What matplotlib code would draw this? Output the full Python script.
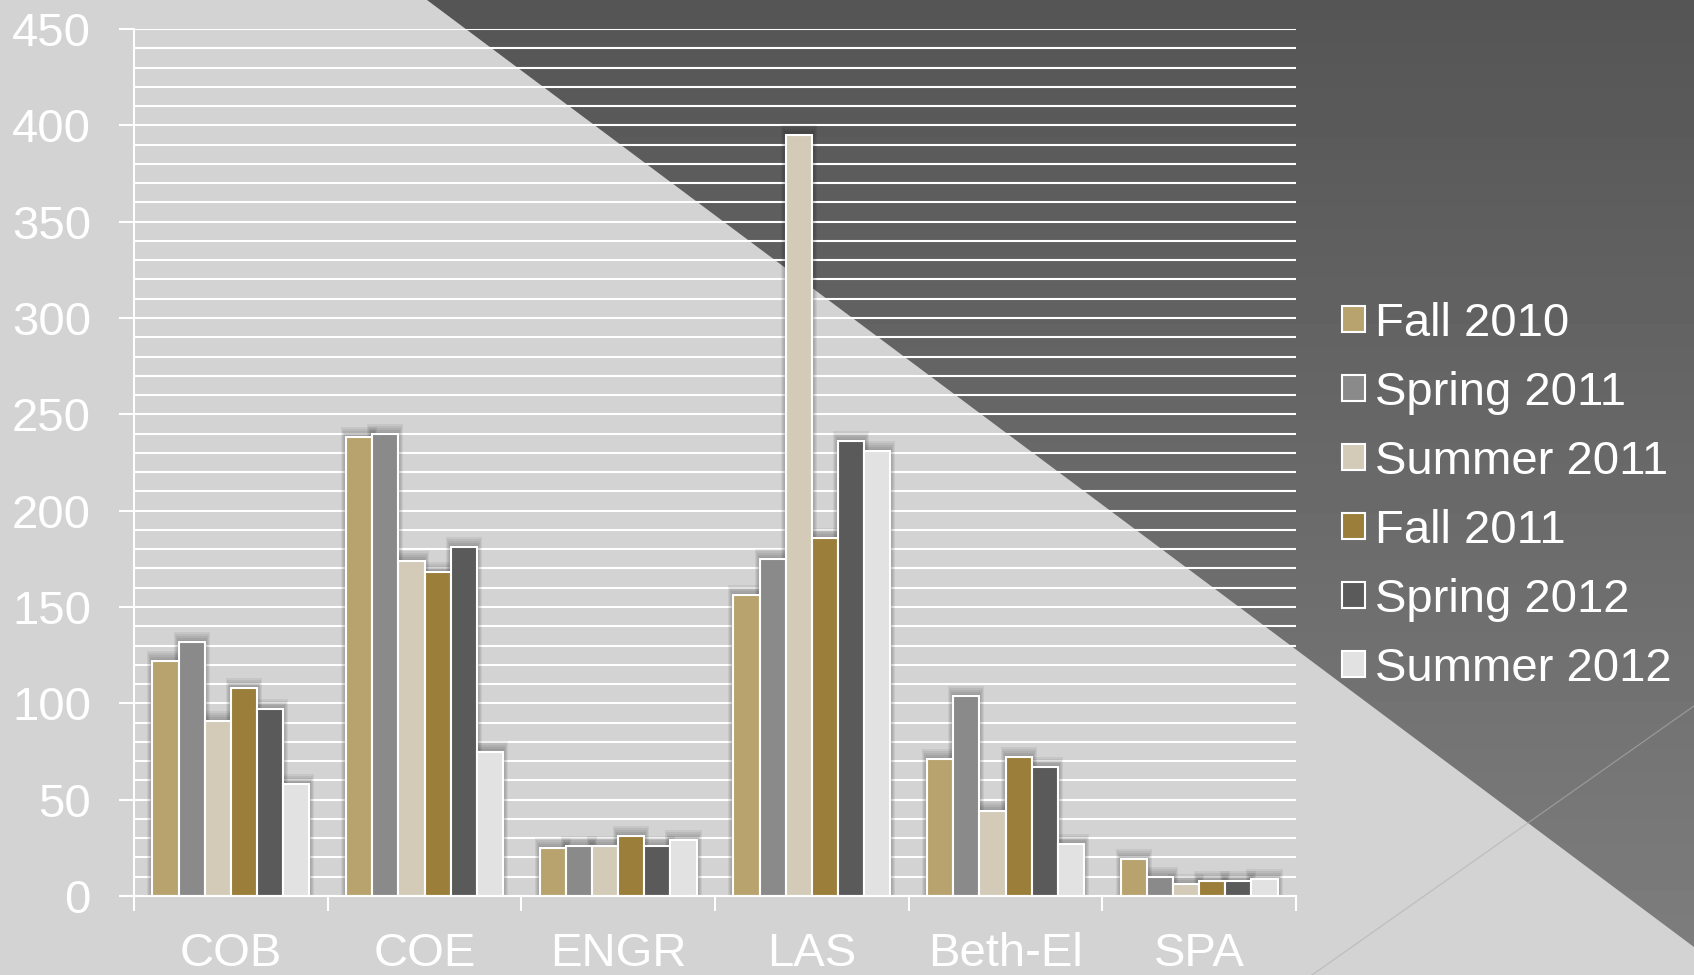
import numpy as np
import matplotlib
matplotlib.use('Agg')
import matplotlib.pyplot as plt
from matplotlib.patches import Polygon
from matplotlib.ticker import MultipleLocator, FixedLocator

plt.rcParams['font.family'] = ['Liberation Sans', 'DejaVu Sans']

# 학과별 학기 데이터
colleges = ['COB', 'COE', 'ENGR', 'LAS', 'Beth-El', 'SPA']
terms = ['Fall 2010', 'Spring 2011', 'Summer 2011', 'Fall 2011', 'Spring 2012', 'Summer 2012']
fall_2010 = [122, 238, 25, 156, 71, 19]
spring_2011 = [132, 240, 26, 175, 104, 10]
summer_2011 = [91, 174, 26, 395, 44, 6]
fall_2011 = [108, 168, 31, 186, 72, 8]
spring_2012 = [97, 181, 26, 236, 67, 8]
summer_2012 = [58, 75, 29, 231, 27, 9]
series = [fall_2010, spring_2011, summer_2011, fall_2011, spring_2012, summer_2012]
colors = ['#b8a36e', '#8a8a8a', '#d3cbb8', '#9b7e3a', '#5a5a5a', '#e2e2e2']

W, H = 1694, 975
fig = plt.figure(figsize=(W / 100, H / 100), dpi=100)
fig.patch.set_facecolor('#d3d3d3')

# 배경: 오른쪽 위 어두운 삼각형 (세로 그라데이션)
bg = fig.add_axes([0, 0, 1, 1], zorder=0)
bg.set_xlim(0, W)
bg.set_ylim(H, 0)
bg.axis('off')
grad = np.linspace(0x55, 0x7e, 256)[:, None] / 255.0
img = bg.imshow(np.repeat(grad, 2, axis=1), cmap='gray', vmin=0, vmax=1,
                extent=[0, W, H, 0], aspect='auto')
tri = Polygon([[427, 0], [W, 0], [W, 947]], closed=True, transform=bg.transData)
img.set_clip_path(tri)
bg.plot([1312, W], [H, 706], color='#b0b0b0', alpha=0.6, lw=0.9)

# 막대 차트
ax = fig.add_axes([134 / W, 79 / H, (1296 - 134) / W, (896 - 29) / H], zorder=1)
ax.set_facecolor('none')
x = np.arange(len(colleges)) + 0.5
bw = 0.135
px_x = 1.0 / 193.7
px_y = 1.0 / 1.925
for j, vals in enumerate(series):
    pos = x + (j - 2.5) * bw
    # 그림자
    for k in range(1, 6):
        ax.bar(pos, np.array(vals) + 2.0 * k * px_y, width=bw + 2.0 * k * px_x,
               color='black', alpha=0.06, linewidth=0, zorder=2)
for j, vals in enumerate(series):
    pos = x + (j - 2.5) * bw
    ax.bar(pos, vals, width=bw, color=colors[j], edgecolor='white',
           linewidth=1.5, label=terms[j], zorder=3)

ax.set_xlim(0, 6)
ax.set_ylim(0, 450)
ax.yaxis.set_major_locator(MultipleLocator(50))
ax.yaxis.set_minor_locator(MultipleLocator(10))
ax.grid(axis='y', which='both', color='white', linewidth=1.5, zorder=1)
ax.set_axisbelow(True)
for side in ['top', 'right']:
    ax.spines[side].set_visible(False)
for side in ['left', 'bottom']:
    ax.spines[side].set_color('white')
    ax.spines[side].set_linewidth(1.5)
    ax.spines[side].set_zorder(4)

ax.tick_params(axis='y', which='major', length=11, width=1.5, color='white',
               labelcolor='white', labelsize=34, pad=20)
ax.tick_params(axis='y', which='minor', length=0)
ax.xaxis.set_major_locator(FixedLocator(np.arange(0, 7)))
ax.xaxis.set_minor_locator(FixedLocator(x))
ax.set_xticklabels([''] * 7)
ax.set_xticklabels(colleges, minor=True)
ax.tick_params(axis='x', which='major', length=11, width=1.5, color='white')
ax.tick_params(axis='x', which='minor', length=0, labelcolor='white',
               labelsize=34, pad=26)

leg = ax.legend(loc='upper left', bbox_to_anchor=(0.781, 0.71),
                bbox_transform=fig.transFigure, frameon=False, fontsize=34,
                handlelength=0.48, handleheight=0.48, handletextpad=0.22,
                labelspacing=0.53, borderaxespad=0)
for t in leg.get_texts():
    t.set_color('white')

fig.savefig('out.png', dpi=100, facecolor=fig.get_facecolor())
